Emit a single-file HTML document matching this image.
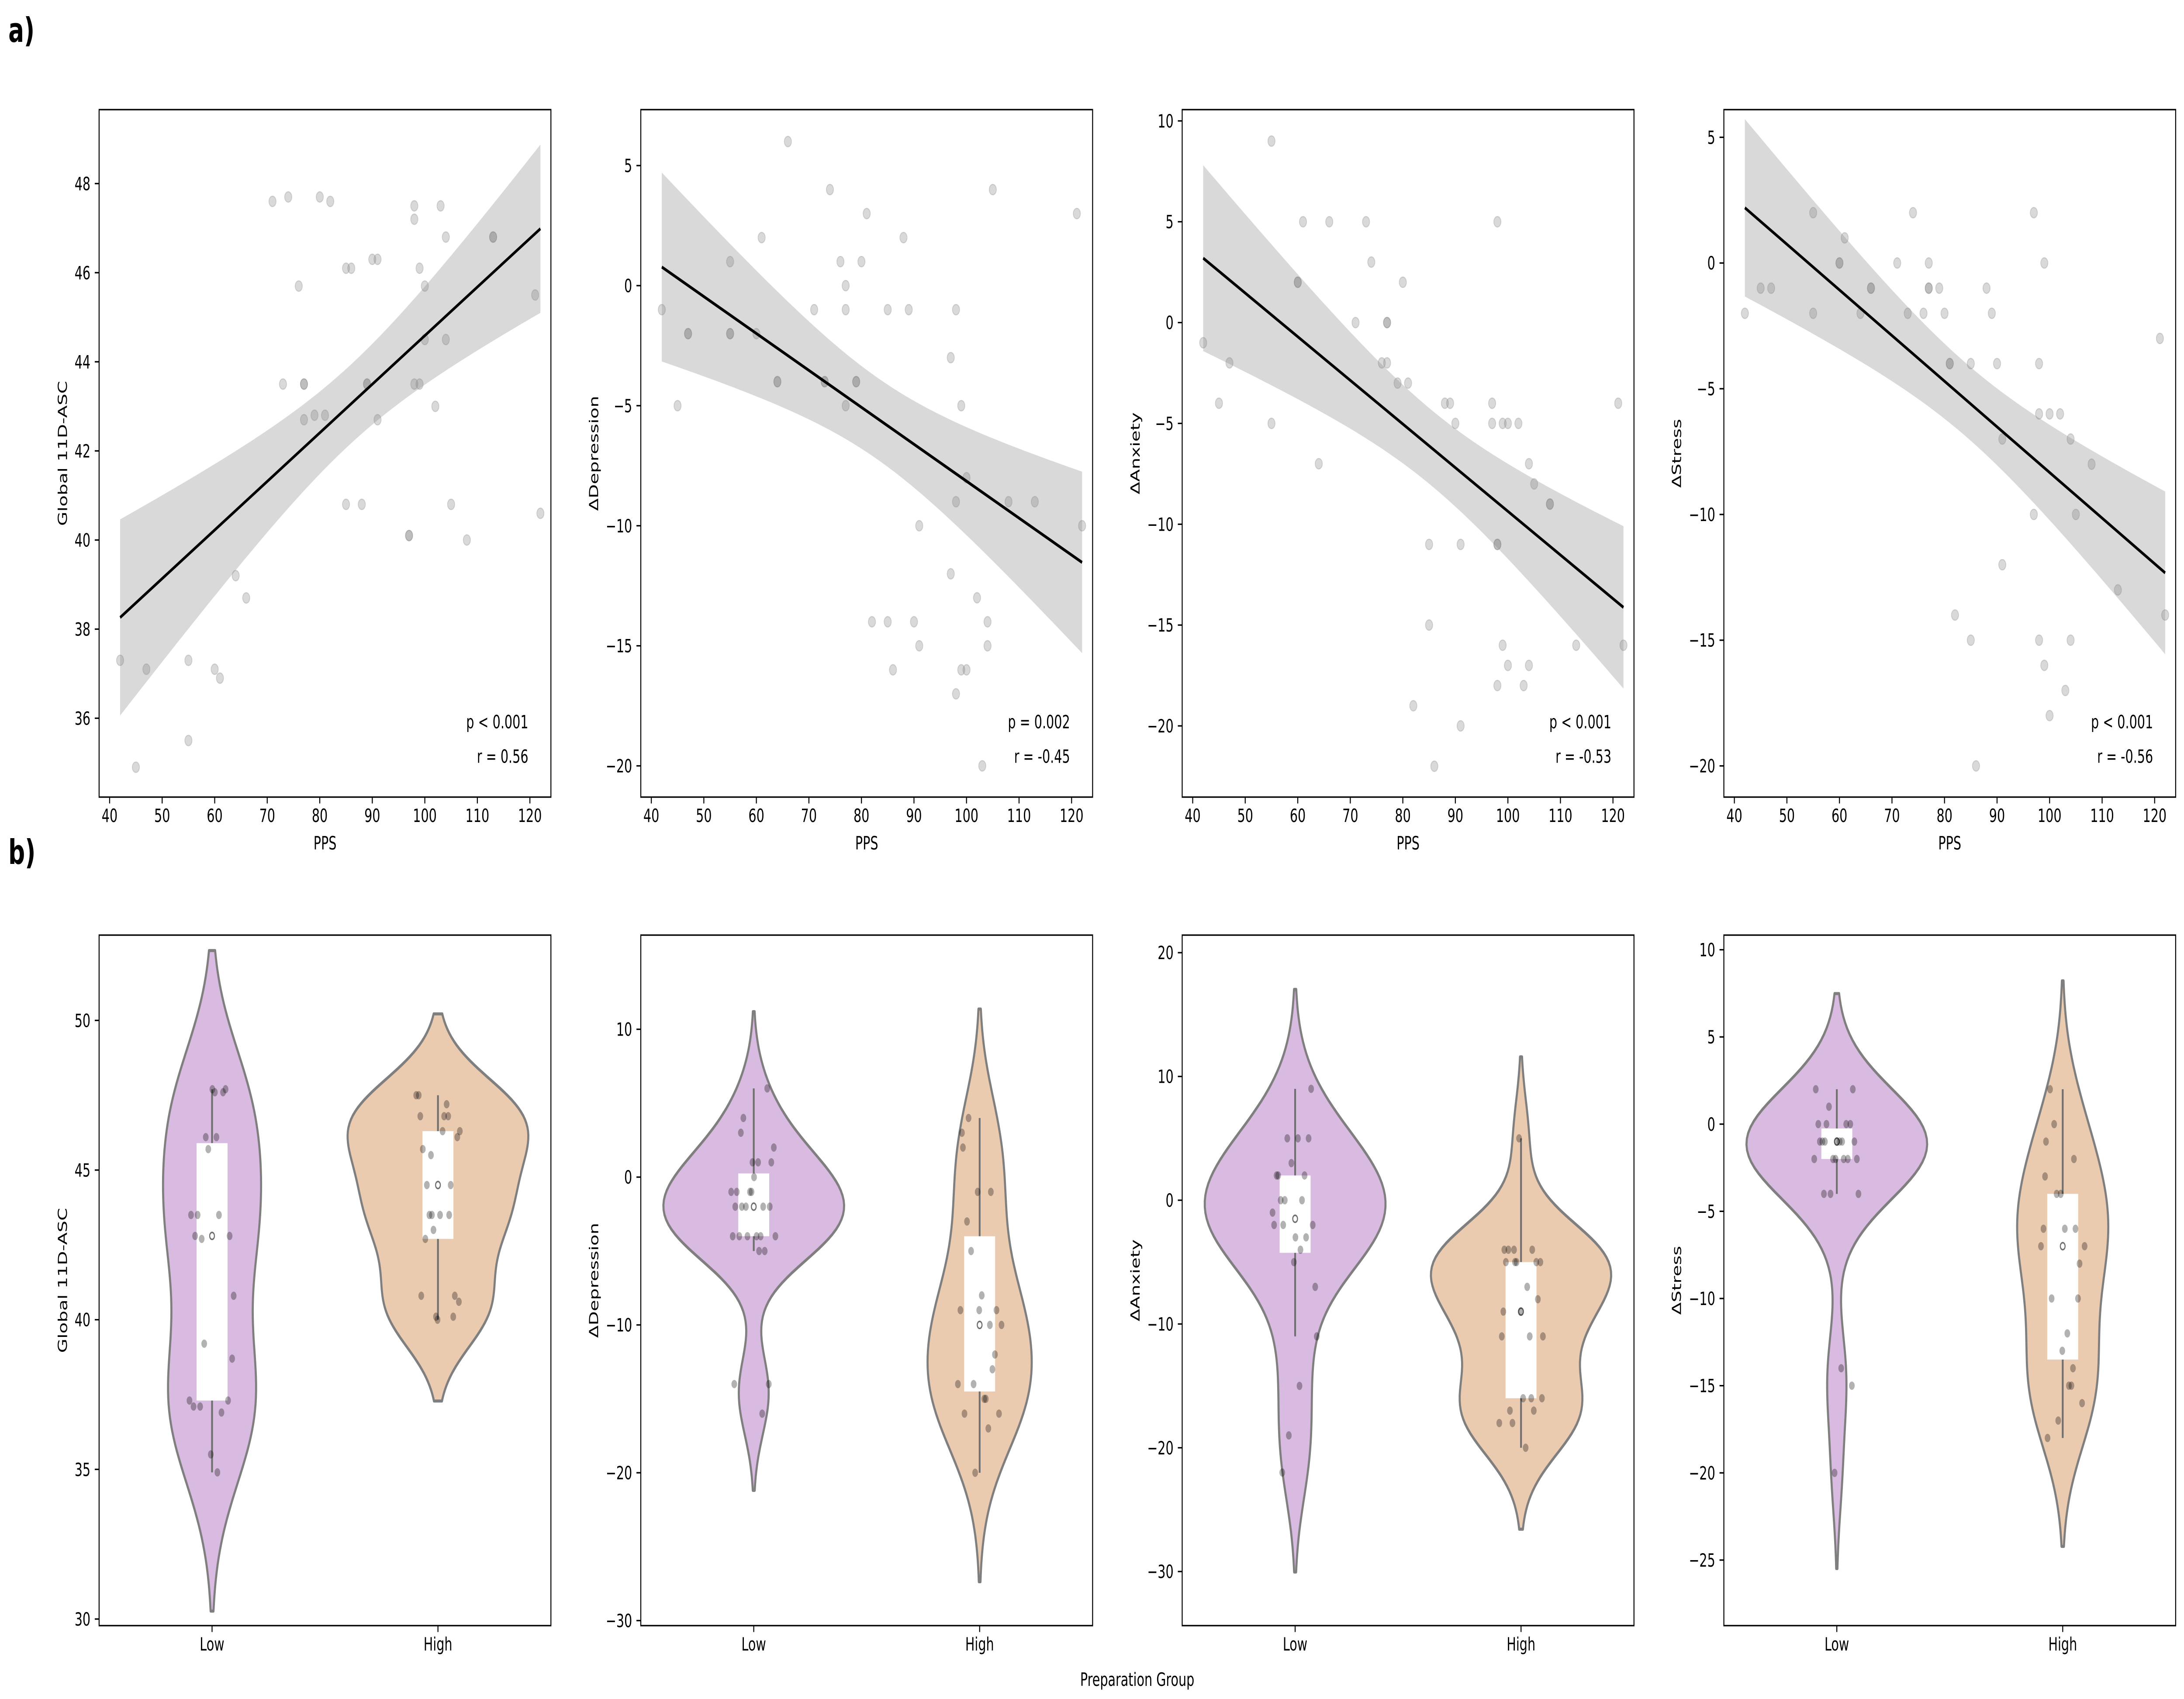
<!DOCTYPE html>
<html><head><meta charset="utf-8"><style>
html,body{margin:0;padding:0;background:#fff;overflow:hidden;width:100%;height:100%;}
svg{display:block;width:100vw;height:100vh;font-family:"DejaVu Sans","Liberation Sans",sans-serif;}
</style></head><body>
<svg id="fig" xmlns="http://www.w3.org/2000/svg" viewBox="0 0 7338 3890" preserveAspectRatio="none">
<rect width="7338" height="3890" fill="#fff"/>
<text x="28" y="96" font-size="78" font-weight="bold">a)</text>
<text x="28" y="1978" font-size="78" font-weight="bold">b)</text>
<text x="3821" y="3860" font-size="42" text-anchor="middle">Preparation Group</text>
</svg>
<script>
// ---------- data ----------
const ppsA = [42,45,47,55,55,60,61,64,66,71,73,74,76,77,77,77,79,80,81,82,85,85,86,88,89,89,90,91,91,97,97,98,98,98,99,99,100,100,102,103,104,104,105,108,113,113,121,122];
const asc  = [37.3,34.9,37.1,37.3,35.5,37.1,36.9,39.2,38.7,47.6,43.5,47.7,45.7,43.5,43.5,42.7,42.8,47.7,42.8,47.6,46.1,40.8,46.1,40.8,43.5,43.5,46.3,46.3,42.7,40.1,40.1,47.5,47.2,43.5,46.1,43.5,45.7,44.5,43.0,47.5,46.8,44.5,40.8,40.0,46.8,46.8,45.5,40.6];
const ppsD = [42,45,47,47,55,55,55,60,61,64,64,66,71,73,73,74,76,77,77,77,79,79,80,81,82,85,85,86,88,89,90,91,91,97,97,98,98,98,99,99,100,100,102,103,104,104,105,108,113,121,122];
const dep  = [-1,-5,-2,-2,1,-2,-2,-2,2,-4,-4,6,-1,-4,-4,4,1,0,-1,-5,-4,-4,1,3,-14,-1,-14,-16,2,-1,-14,-10,-15,-3,-12,-1,-9,-17,-5,-16,-8,-16,-13,-20,-14,-15,4,-9,-9,3,-10];
const ppsX = [42,45,47,55,55,60,60,61,64,66,71,73,74,76,77,77,77,79,80,81,82,85,85,86,88,89,90,91,91,97,97,98,98,98,98,99,99,100,100,102,103,104,104,105,108,108,113,121,122];
const anx  = [-1,-4,-2,9,-5,2,2,5,-7,5,0,5,3,-2,0,0,-2,-3,2,-3,-19,-11,-15,-22,-4,-4,-5,-11,-20,-4,-5,5,-11,-11,-18,-5,-16,-5,-17,-5,-18,-7,-17,-8,-9,-9,-16,-4,-16];
const ppsS = [42,45,47,55,55,60,60,61,64,66,66,71,73,74,76,77,77,77,79,80,81,81,82,85,85,86,88,89,90,91,91,97,97,98,98,98,99,99,100,100,102,103,104,104,105,108,113,121,122];
const stress=[-2,-1,-1,2,-2,0,0,1,-2,-1,-1,0,-2,2,-2,0,-1,-1,-1,-2,-4,-4,-14,-4,-15,-20,-1,-2,-4,-7,-12,2,-10,-4,-6,-15,0,-16,-6,-18,-6,-17,-7,-15,-10,-8,-13,-3,-14];
const pLabels = ["p < 0.001","p = 0.002","p < 0.001","p < 0.001"];
const rLabels = ["r = 0.56","r = -0.45","r = -0.53","r = -0.56"];
const yTitles = ["Global 11D-ASC","ΔDepression","ΔAnxiety","ΔStress"];
const xTicks = [40,50,60,70,80,90,100,110,120];
const yTicksA = [[36,38,40,42,44,46,48],[-20,-15,-10,-5,0,5],[-20,-15,-10,-5,0,5,10],[-20,-15,-10,-5,0,5]];
const yTicksB = [[30,35,40,45,50],[-30,-20,-10,0,10],[-30,-20,-10,0,10,20],[-25,-20,-15,-10,-5,0,5,10]];
const groups = ["Low","High"];
const PPS_CUTOFF = 86;

// ---------- layout ----------
const NS="http://www.w3.org/2000/svg";
const svg=document.getElementById('fig');
const LEFTS=[333,2153,3972,5792], AW=1518;
const TOP_A=251, BOT_A=1825, TOP_B=2141, BOT_B=3722;
const XLIM=[38,124];
const YLIM_A=[[34.23,49.66],[-21.3,7.33],[-23.53,10.56],[-21.24,6.1]];
const YLIM_B=[[29.78,52.85],[-30.34,16.37],[-34.37,21.42],[-28.76,10.84]];
const YT_OFF_A=[123,158,158,159], YT_OFF_B=[123,158,158,159];
const COLORS=["#d9bae0","#ebcbb0"];
function el(tag,attrs,parent){const e=document.createElementNS(NS,tag);for(const k in attrs)e.setAttribute(k,attrs[k]);(parent||svg).appendChild(e);return e;}
function fmt(v){return (v<0?"\u2212":"")+Math.abs(v);}

function axesFrame(g,L,T,B,yticks,sy,ytitle,yoff){
  for(const v of yticks){const y=sy(v);
    const t=el('line',{x1:L-14.6,x2:L,y1:y,y2:y,stroke:'#000','stroke-width':3.3},g);
    
    const tx=el('text',{x:L-29,y:y+15,'font-size':42,'text-anchor':'end'},g);tx.textContent=fmt(v);
    }
  const yt=el('text',{x:L-yoff,y:(T+B)/2,'font-size':42,'text-anchor':'middle',transform:`rotate(-90 ${L-yoff} ${(T+B)/2})`},g);
  yt.textContent=ytitle;yt.setAttribute('dy','15');
  
}

// ---------- scatter panels ----------
const sets=[[ppsA,asc],[ppsD,dep],[ppsX,anx],[ppsS,stress]];
sets.forEach(([xs,ys],pi)=>{
  const L=LEFTS[pi],T=TOP_A,B=BOT_A;
  const g=el('g',{});
  
  const sx=v=>L+(v-XLIM[0])/(XLIM[1]-XLIM[0])*AW;
  const yl=YLIM_A[pi];const sy=v=>B-(v-yl[0])/(yl[1]-yl[0])*(B-T);
  const n=xs.length;let xm=0,ym=0;for(let i=0;i<n;i++){xm+=xs[i];ym+=ys[i];}xm/=n;ym/=n;
  let sxx=0,sxy=0;for(let i=0;i<n;i++){sxx+=(xs[i]-xm)**2;sxy+=(xs[i]-xm)*(ys[i]-ym);}
  const b=sxy/sxx,a=ym-b*xm;let sse=0;for(let i=0;i<n;i++)sse+=(ys[i]-a-b*xs[i])**2;
  const s=Math.sqrt(sse/(n-2)),tq=2.013;
  const x0=Math.min(...xs),x1=Math.max(...xs);const up=[],lo=[];
  for(let k=0;k<=100;k++){const x=x0+(x1-x0)*k/100;const yh=a+b*x;const h=tq*s*Math.sqrt(1/n+(x-xm)**2/sxx);
    up.push(sx(x).toFixed(1)+','+sy(yh+h).toFixed(1));lo.unshift(sx(x).toFixed(1)+','+sy(yh-h).toFixed(1));}
  const band=el('polygon',{points:up.concat(lo).join(' '),fill:'#d9d9d9'},g);
  
  for(let i=0;i<n;i++){const c=el('circle',{cx:sx(xs[i]),cy:sy(ys[i]),r:12,fill:'#808080','fill-opacity':0.3,stroke:'#808080','stroke-opacity':0.3,'stroke-width':2.5},g);
    }
  const ln=el('line',{x1:sx(x0),y1:sy(a+b*x0),x2:sx(x1),y2:sy(a+b*x1),stroke:'#000','stroke-width':7},g);
  
  const fr=el('rect',{x:L,y:T,width:AW,height:B-T,fill:'none',stroke:'#000','stroke-width':3.3},g);
  
  for(const v of xTicks){const x=sx(v);
    const t=el('line',{x1:x,x2:x,y1:B,y2:B+14.6,stroke:'#000','stroke-width':3.3},g);
    
    const tx=el('text',{x:x,y:B+57,'font-size':42,'text-anchor':'middle'},g);tx.textContent=v;
    }
  const xt=el('text',{x:L+AW/2,y:B+120,'font-size':42,'text-anchor':'middle'},g);xt.textContent='PPS';
  
  axesFrame(g,L,T,B,yTicksA[pi],sy,yTitles[pi],YT_OFF_A[pi]);
  const pt=el('text',{x:L+0.95*AW,y:B-0.1*(B-T),'font-size':42,'text-anchor':'end'},g);pt.textContent=pLabels[pi];
  
  const rt=el('text',{x:L+0.95*AW,y:B-0.05*(B-T),'font-size':42,'text-anchor':'end'},g);rt.textContent=rLabels[pi];
  
});

// ---------- violin panels ----------
function pct(arr,p){const s=[...arr].sort((a,b)=>a-b);const k=(s.length-1)*p;const f=Math.floor(k),c=Math.ceil(k);return s[f]+(s[c]-s[f])*(k-f);}
sets.forEach(([xs,ys],pi)=>{
  const L=LEFTS[pi],T=TOP_B,B=BOT_B;
  const g=el('g',{});
  
  const yl=YLIM_B[pi];const sy=v=>B-(v-yl[0])/(yl[1]-yl[0])*(B-T);
  const sx=v=>L+(v+0.5)/2*AW;
  const grpVals=[[],[]];
  for(let i=0;i<xs.length;i++)grpVals[xs[i]<=PPS_CUTOFF?0:1].push(ys[i]);
  const kdes=grpVals.map(v=>{const n=v.length;const m=v.reduce((a,b)=>a+b,0)/n;
    const sd=Math.sqrt(v.reduce((a,b)=>a+(b-m)**2,0)/(n-1));const bw=sd*Math.pow(n,-0.2);
    const lo=Math.min(...v)-2*bw,hi=Math.max(...v)+2*bw;const pts=[];
    for(let k=0;k<100;k++){const y=lo+(hi-lo)*k/99;let d=0;for(const q of v)d+=Math.exp(-0.5*((y-q)/bw)**2);d/=n*bw*Math.sqrt(2*Math.PI);pts.push([y,d]);}
    return pts;});
  const maxD=Math.max(...kdes.flat().map(p=>p[1]));
  kdes.forEach((pts,gi)=>{
    const cx=sx(gi);const right=pts.map(([y,d])=>(cx+d/maxD*0.4*AW/2).toFixed(1)+','+sy(y).toFixed(1));
    const left=pts.slice().reverse().map(([y,d])=>(cx-d/maxD*0.4*AW/2).toFixed(1)+','+sy(y).toFixed(1));
    const vp=el('polygon',{points:right.concat(left).join(' '),fill:COLORS[gi],stroke:'#7f7f7f','stroke-width':7,'stroke-linejoin':'round'},g);
    
    const v=grpVals[gi];const q1=pct(v,0.25),q3=pct(v,0.75),med=pct(v,0.5),iqr=q3-q1;
    const wlo=Math.min(...v.filter(a=>a>=q1-1.5*iqr)),whi=Math.max(...v.filter(a=>a<=q3+1.5*iqr));
    const wl=el('line',{x1:cx,x2:cx,y1:sy(wlo),y2:sy(whi),stroke:'#6f6f6f','stroke-width':6},g);
    
    const bx=el('rect',{x:cx-52,y:sy(q3),width:104,height:sy(q1)-sy(q3),fill:'#fff'},g);
    
    const mc=el('circle',{cx:cx,cy:sy(med),r:8,fill:'#fff',stroke:'#6f6f6f','stroke-width':3.5},g);
    
    v.forEach((val,i)=>{const j=(((i*0.618034+0.13*gi)%1)-0.5)*0.2;
      const d=el('circle',{cx:sx(gi+j),cy:sy(val),r:9.5,fill:'#000','fill-opacity':0.3},g);
      });
    const t=el('line',{x1:cx,x2:cx,y1:B,y2:B+14.6,stroke:'#000','stroke-width':3.3},g);
    
    const tx=el('text',{x:cx,y:B+57,'font-size':42,'text-anchor':'middle'},g);tx.textContent=groups[gi];
    
  });
  const fr=el('rect',{x:L,y:T,width:AW,height:B-T,fill:'none',stroke:'#000','stroke-width':3.3},g);
  
  axesFrame(g,L,T,B,yTicksB[pi],sy,yTitles[pi],YT_OFF_B[pi]);
});
</script>
</body></html>
